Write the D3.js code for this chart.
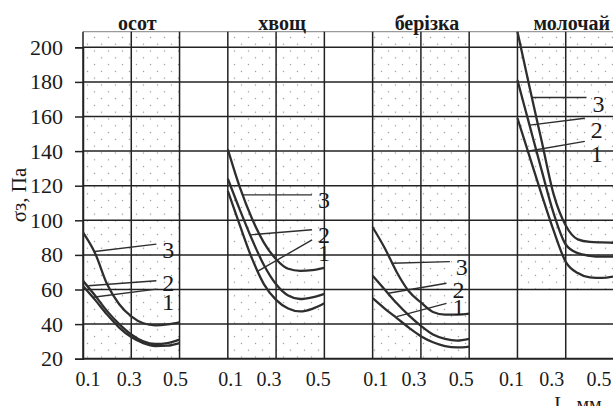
<!DOCTYPE html>
<html>
<head>
<meta charset="utf-8">
<script src="https://cdn.jsdelivr.net/npm/d3@7"></script>
<style>
body { margin: 0; background: #fff; }
text { font-family: "Liberation Serif", "Times New Roman", serif; fill: #1a1a1a; }
</style>
</head>
<body>
<svg id="chart" width="613" height="406"></svg>
<script>
// panels, x values (L, мм) and the three curves of every panel
var panels = ["осот", "хвощ", "берізка", "молочай"];
var lengths = [0.1, 0.15, 0.2, 0.25, 0.3, 0.35, 0.4, 0.45, 0.5];
var curveNames = ["1", "2", "3"];
var yTicks = [20, 40, 60, 80, 100, 120, 140, 160, 180, 200];
var xTicks = [0.1, 0.3, 0.5];

var osot1 = [62, 54, 45.5, 38, 32.5, 29, 27.3, 27.5, 29];
var osot2 = [65, 56.5, 47.5, 40, 34, 30, 28.5, 29, 31];
var osot3 = [93, 81, 63, 51.5, 44.5, 40.5, 39.3, 39.8, 41];

var hvoshch1 = [117, 97, 78, 63, 54, 49, 47.3, 48.8, 52];
var hvoshch2 = [124, 106, 89, 74, 63, 56.5, 54.5, 55.5, 57.5];
var hvoshch3 = [141, 119, 101, 87, 77.5, 72, 70.8, 71.2, 72.5];

var berizka1 = [55, 49, 43.5, 38, 33, 29.5, 27.3, 26.5, 27];
var berizka2 = [68, 60, 52, 45, 39, 34, 31.5, 30.5, 31.5];
var berizka3 = [96, 84, 70, 59, 52.5, 47, 45.5, 45.5, 46];

var molochai1 = [159, 137, 115, 94, 76, 69.5, 67, 66.7, 67.5];
var molochai2 = [181, 155, 129, 104, 86, 81, 79.5, 79, 79];
var molochai3 = [209, 177, 146, 115, 97, 89, 87.5, 87.2, 87];

// leader lines in data units: [curve, L from, value from, L to, value to, label value]
var osotLeaders = [["3", 0.149, 82, 0.404, 86.2, 78.3], ["2", 0.122, 62.2, 0.404, 65.1, 59], ["1", 0.142, 55.5, 0.404, 60.2, 48.2]];
var hvoshchLeaders = [["3", 0.159, 114.7, 0.449, 114.7, 107.2], ["2", 0.194, 91.6, 0.449, 94.5, 87], ["1", 0.221, 70.3, 0.449, 88.7, 76.5]];
var berizkaLeaders = [["3", 0.179, 75.2, 0.42, 76.1, 68.4], ["2", 0.165, 57.8, 0.406, 63.6, 55], ["1", 0.2, 44.3, 0.406, 52, 45.3]];
var molochaiLeaders = [["3", 0.158, 171, 0.386, 171, 162.7], ["2", 0.151, 155, 0.379, 159, 147.7], ["1", 0.137, 139.8, 0.379, 145.6, 133.8]];

// lowest value that still has the dotted fill
var dottedFrom = [20, 20, 20, 60];

var series = [
  [osot1, osot2, osot3],
  [hvoshch1, hvoshch2, hvoshch3],
  [berizka1, berizka2, berizka3],
  [molochai1, molochai2, molochai3]
];
var leaders = [osotLeaders, hvoshchLeaders, berizkaLeaders, molochaiLeaders];

var svg = d3.select("#chart");
var left = 83, right = 614;

var y = d3.scaleLinear().domain([20, 200]).range([358.7, 47.3]);
var yMax = y.invert(31.7);

var band = d3.scaleBand().domain(panels).range([left, right])
    .paddingInner(1 / 3).paddingOuter(0);

/* dotted background */
var defs = svg.append("defs");
var pat = defs.append("pattern")
    .attr("id", "dots")
    .attr("patternUnits", "userSpaceOnUse")
    .attr("width", 14).attr("height", 13.6);
pat.append("circle").attr("cx", 3.5).attr("cy", 3.4).attr("r", 0.75).attr("fill", "#9a9a9a");
pat.append("circle").attr("cx", 10.5).attr("cy", 10.2).attr("r", 0.75).attr("fill", "#9a9a9a");

defs.append("clipPath").attr("id", "plotclip")
  .append("rect")
    .attr("x", left).attr("y", y(yMax))
    .attr("width", right - left).attr("height", y(20) - y(yMax));

panels.forEach(function (p, i) {
  svg.append("rect")
    .attr("x", band(p))
    .attr("y", y(yMax))
    .attr("width", band.bandwidth())
    .attr("height", y(dottedFrom[i]) - y(yMax))
    .attr("fill", "url(#dots)");
});

/* grid */
svg.append("line")
    .attr("x1", left).attr("x2", right)
    .attr("y1", y(yMax)).attr("y2", y(yMax))
    .attr("stroke", "#9a9a9a").attr("stroke-width", 1.2);

svg.append("g").selectAll("line")
  .data(yTicks)
  .enter().append("line")
    .attr("x1", left).attr("x2", right)
    .attr("y1", function (d) { return y(d); })
    .attr("y2", function (d) { return y(d); })
    .attr("stroke", "#222")
    .attr("stroke-width", function (d) { return d === 20 ? 2 : 1.5; });

panels.forEach(function (p) {
  var x = d3.scaleLinear().domain([0.1, 0.5]).range([band(p), band(p) + band.bandwidth()]);
  svg.append("g").selectAll("line")
    .data(xTicks)
    .enter().append("line")
      .attr("x1", function (d) { return x(d); })
      .attr("x2", function (d) { return x(d); })
      .attr("y1", y(yMax)).attr("y2", y(20))
      .attr("stroke", "#222").attr("stroke-width", 1.5);
});

/* y axis */
var yAxis = svg.append("g")
    .attr("transform", "translate(" + left + ",0)")
    .call(d3.axisLeft(y).tickValues(yTicks).tickSize(8).tickPadding(12));
yAxis.select(".domain").attr("stroke", "#222").attr("stroke-width", 1.5);
yAxis.selectAll(".tick line").attr("stroke", "#222").attr("stroke-width", 1.5);
yAxis.selectAll(".tick text")
    .style("font-family", "Liberation Serif, serif")
    .style("font-size", "22px")
    .attr("fill", "#1a1a1a");

svg.append("text")
    .attr("transform", "translate(26,195) rotate(-90)")
    .attr("text-anchor", "middle")
    .style("font-size", "21px")
    .text("σз, Па");

/* curves, leaders and labels */
var labelShift = [[5, -2, -4], [3, -7, -6], [3, -7, -8], [-6, -14, -15]];
var plot = svg.append("g").attr("clip-path", "url(#plotclip)");

panels.forEach(function (p, i) {
  var x = d3.scaleLinear().domain([0.1, 0.5]).range([band(p), band(p) + band.bandwidth()]);

  var line = d3.line()
      .x(function (d) { return x(d[0]); })
      .y(function (d) { return y(d[1]); })
      .curve(d3.curveMonotoneX);

  series[i].forEach(function (vals) {
    plot.append("path")
      .datum(lengths.map(function (l, k) { return [l, vals[k]]; }))
      .attr("d", line)
      .attr("fill", "none")
      .attr("stroke", "#2e2e2e")
      .attr("stroke-width", 2.3);
  });

  svg.append("g").selectAll("line")
    .data(leaders[i])
    .enter().append("line")
      .attr("x1", function (d) { return x(d[1]); })
      .attr("y1", function (d) { return y(d[2]); })
      .attr("x2", function (d) { return x(d[3]); })
      .attr("y2", function (d) { return y(d[4]); })
      .attr("stroke", "#2e2e2e").attr("stroke-width", 1.4);

  svg.append("g").selectAll("text")
    .data(leaders[i])
    .enter().append("text")
      .attr("x", function (d) { return x(d[3]) + 6; })
      .attr("y", function (d) { return y(d[5]); })
      .style("font-size", "24px")
      .text(function (d) { return d[0]; });

  svg.append("text")
    .attr("x", x(0.3) + 6)
    .attr("y", 30)
    .attr("text-anchor", "middle")
    .style("font-size", "20px")
    .style("font-weight", "bold")
    .text(p);

  svg.append("g").selectAll("text")
    .data(xTicks)
    .enter().append("text")
      .attr("x", function (d, k) { return x(d) + labelShift[i][k]; })
      .attr("y", 386)
      .attr("text-anchor", "middle")
      .style("font-size", "20px")
      .text(function (d) { return d3.format(".1f")(d); });
});

svg.append("text")
    .attr("x", 578)
    .attr("y", 411)
    .attr("text-anchor", "middle")
    .style("font-size", "20px")
    .text("L, мм");
</script>
</body>
</html>
